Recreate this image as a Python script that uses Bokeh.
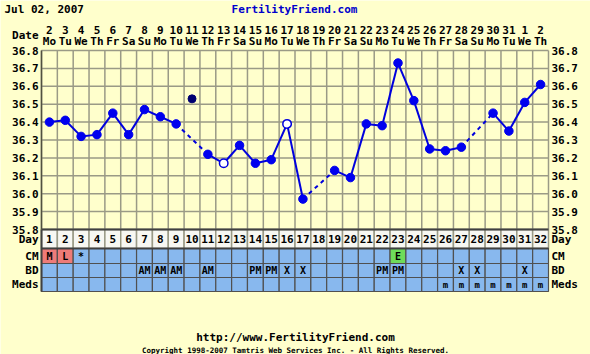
from bokeh.plotting import figure
from bokeh.models import Range1d, ColumnDataSource
from bokeh.core.properties import value
from bokeh.embed import file_html
from bokeh.resources import INLINE

# ---------------- data ----------------
days = list(range(1, 33))
dates = ["2", "3", "4", "5", "6", "7", "8", "9", "10", "11", "12", "13", "14", "15", "16",
         "17", "18", "19", "20", "21", "22", "23", "24", "25", "26", "27", "28", "29", "30",
         "31", "1", "2"]
weekdays = ["Mo", "Tu", "We", "Th", "Fr", "Sa", "Su", "Mo", "Tu", "We", "Th", "Fr", "Sa", "Su",
            "Mo", "Tu", "We", "Th", "Fr", "Sa", "Su", "Mo", "Tu", "We", "Th", "Fr", "Sa", "Su",
            "Mo", "Tu", "We", "Th"]
temps = [36.40, 36.41, 36.32, 36.33, 36.45, 36.33, 36.47, 36.43, 36.39, 36.53,
         36.22, 36.17, 36.27, 36.17, 36.19, 36.39, 35.97, None, 36.13, 36.09,
         36.39, 36.38, 36.73, 36.52, 36.25, 36.24, 36.26, None, 36.45, 36.35,
         36.51, 36.61]
excluded_days = [10]
open_days = [12, 16]
temp_ticks = [35.8, 35.9, 36.0, 36.1, 36.2, 36.3, 36.4, 36.5, 36.6, 36.7, 36.8]
temp_labels = ["35.8", "35.9", "36.0", "36.1", "36.2", "36.3", "36.4", "36.5", "36.6", "36.7", "36.8"]
cm = ["M", "L", "*", "", "", "", "", "", "", "", "", "", "", "", "", "", "", "", "", "", "", "",
      "E", "", "", "", "", "", "", "", "", ""]
bd = ["", "", "", "", "", "", "AM", "AM", "AM", "", "AM", "", "", "PM", "PM", "X", "X", "", "",
      "", "", "PM", "PM", "", "", "", "X", "X", "", "", "X", ""]
meds = ["", "", "", "", "", "", "", "", "", "", "", "", "", "", "", "", "", "", "", "", "", "",
        "", "", "", "m", "m", "m", "m", "m", "m", "m"]
row_names = ["Day", "CM", "BD", "Meds"]

# ---------------- geometry ----------------
W, H = 590, 354
COL = 507 / 32
X0 = 0.5 - 41 / COL
X1 = X0 + W / COL
PPD = 179.0
Y1 = 36.8 + 50 / PPD
Y0 = Y1 - H / PPD


def xp(px):
    return X0 + px / COL


def yp(py):
    return Y1 - py / PPD


BG = "#FFFFCC"
GRID = "#9A9A86"
BLUE_CELL = "#88B8EE"
FONT = value("DejaVu Sans Mono")

p = figure(width=W, height=H, x_range=Range1d(X0, X1), y_range=Range1d(Y0, Y1),
           output_backend="svg", toolbar_location=None, min_border=0,
           x_axis_type=None, y_axis_type=None)
p.outline_line_color = None
p.background_fill_color = BG
p.border_fill_color = BG
p.xgrid.visible = False
p.ygrid.visible = False


def txt(x, y, t, size="10px", align="center", color="#000000", style="bold"):
    p.text(x=x, y=y, text=t, text_font=FONT, text_font_size=size, text_font_style=style,
           text_align=align, text_baseline="middle", text_color=color)


# grid
tmin, tmax = temp_ticks[0], temp_ticks[-1]
p.segment(x0=[d - 0.5 for d in days] + [32.5], x1=[d - 0.5 for d in days] + [32.5],
          y0=[tmin] * 33, y1=[tmax] * 33, line_color=GRID, line_width=1.5)
p.segment(x0=[0.5] * len(temp_ticks), x1=[32.5] * len(temp_ticks),
          y0=temp_ticks, y1=temp_ticks, line_color=GRID, line_width=1.5)

# table
r_day = (tmin, yp(248))
rows_px = [(248, 263), (263, 277), (277, 291)]
p.quad(left=[d - 0.5 for d in days], right=[d + 0.5 for d in days],
       top=[r_day[0]] * 32, bottom=[r_day[1]] * 32,
       fill_color="#F7F7F2", line_color=GRID, line_width=1.5)
cm_colors = {"M": "#EE7B78", "L": "#EE7B78", "E": "#6EDC5A"}
row_vals = [cm, bd, meds]
for ri, (a, b) in enumerate(rows_px):
    fills = [BLUE_CELL] * 32
    if ri == 0:
        fills = [cm_colors.get(c, BLUE_CELL) for c in cm]
    p.quad(left=[d - 0.5 for d in days], right=[d + 0.5 for d in days],
           top=[yp(a)] * 32, bottom=[yp(b)] * 32,
           fill_color=fills, line_color="#505050", line_width=1.2)
p.segment(x0=[0.5, 0.5], x1=[32.5, 0.5], y0=[tmin, tmin], y1=[tmin, yp(291)],
          line_color="#404040", line_width=2)
p.segment(x0=[0.5], x1=[32.5], y0=[yp(248)], y1=[yp(248)], line_color="#404040", line_width=2)
p.segment(x0=[0.5], x1=[0.5], y0=[tmin], y1=[tmax], line_color="#505040", line_width=1.5)

# table text
txt(days, [(r_day[0] + r_day[1]) / 2] * 32, [str(d) for d in days], size="11px")
for ri, (a, b) in enumerate(rows_px):
    vals = row_vals[ri]
    sz = "9px" if ri == 2 else "10px"
    txt(days, [yp((a + b) / 2)] * 32, vals, size=sz)
row_mid = [(r_day[0] + r_day[1]) / 2] + [yp((a + b) / 2) for a, b in rows_px]
txt([xp(38)] * 4, row_mid, row_names, size="11px", align="right")
txt([xp(551)] * 4, row_mid, row_names, size="11px", align="left")

# temperature labels
txt([xp(38)] * len(temp_ticks), temp_ticks, temp_labels, size="11px", align="right")
txt([xp(551)] * len(temp_ticks), temp_ticks, temp_labels, size="11px", align="left")

# date header
txt(days, [yp(29)] * 32, dates, size="11px")
txt(days, [yp(41)] * 32, weekdays, size="11px")
txt([xp(38)], [yp(35)], ["Date"], size="11px", align="right")

# titles
txt([xp(4)], [yp(9)], ["Jul 02, 2007"], size="11px", align="left")
txt([xp(294)], [yp(9)], ["FertilityFriend.com"], size="11px", color="#0000CC")
txt([xp(295)], [yp(337)], ["http://www.FertilityFriend.com"], size="11px")
txt([xp(295)], [yp(350)], ["Copyright 1998-2007 Tamtris Web Services Inc. - All Rights Reserved."],
    size="7.5px")

# temperature line
valid = [(d, t) for d, t in zip(days, temps) if t is not None and d not in excluded_days]
sx0, sy0, sx1, sy1, dx0, dy0, dx1, dy1 = [], [], [], [], [], [], [], []
for (da, ta), (db, tb) in zip(valid[:-1], valid[1:]):
    if db - da == 1:
        sx0.append(da); sy0.append(ta); sx1.append(db); sy1.append(tb)
    else:
        dx0.append(da); dy0.append(ta); dx1.append(db); dy1.append(tb)
p.segment(x0=sx0, y0=sy0, x1=sx1, y1=sy1, line_color="#0000DD", line_width=2)
p.segment(x0=dx0, y0=dy0, x1=dx1, y1=dy1, line_color="#0000DD", line_width=2, line_dash="4 4")

filled = [(d, t) for d, t in valid if d not in open_days]
hollow = [(d, t) for d, t in valid if d in open_days]
excl = [(d, t) for d, t in zip(days, temps) if d in excluded_days and t is not None]
p.scatter(x=[d for d, _ in filled], y=[t for _, t in filled], size=8.5,
          fill_color="#0000EE", line_color="#0000EE")
p.scatter(x=[d for d, _ in hollow], y=[t for _, t in hollow], size=8.5,
          fill_color="#FFFFFF", line_color="#0000DD", line_width=1.5)
p.scatter(x=[d for d, _ in excl], y=[t for _, t in excl], size=8,
          fill_color="#000070", line_color="#000070")

open("out.html", "w").write(file_html(p, INLINE))
